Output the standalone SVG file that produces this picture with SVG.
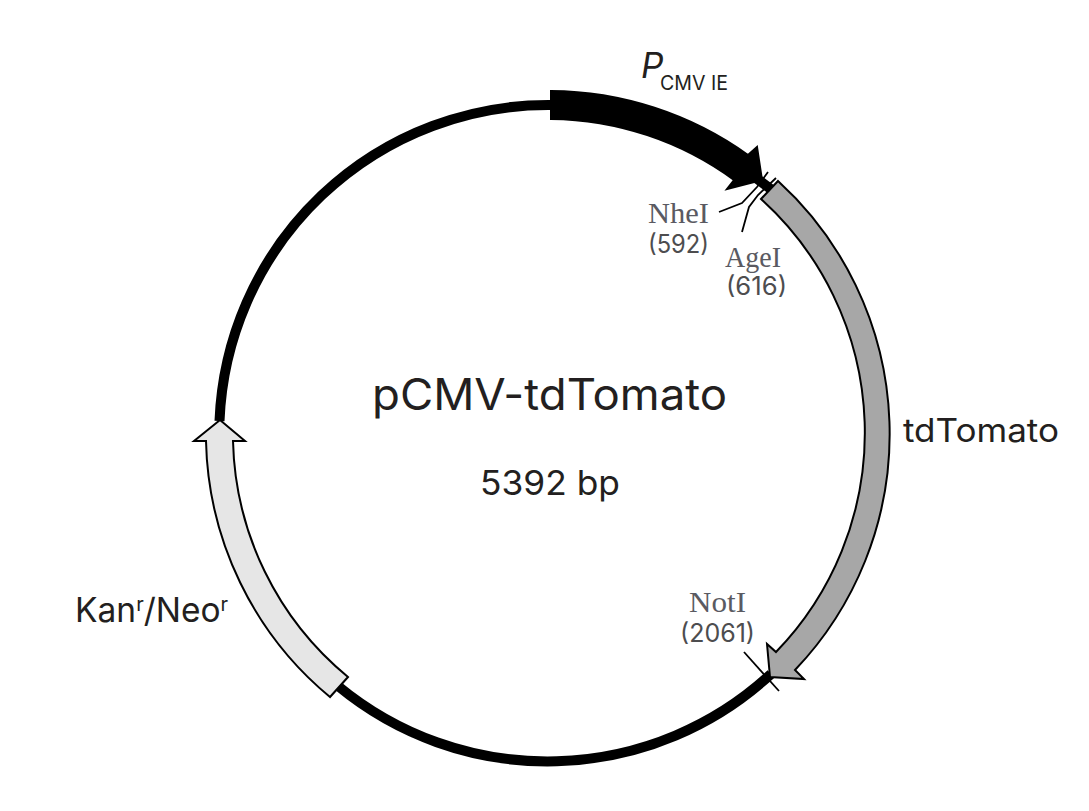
<svg xmlns="http://www.w3.org/2000/svg" width="1089" height="811" viewBox="0 0 1089 811">
<style>
.bb{fill:none;stroke:#000;stroke-width:10}
.tk{fill:none;stroke:#000;stroke-width:1.8}
.gene{stroke:#000;stroke-width:2;stroke-linejoin:miter}
text{font-family:Inter,"Liberation Sans",Arial,sans-serif;fill:#231f20}
.site{font-family:"Liberation Serif","Times New Roman",serif;font-size:30px;fill:#5a5a62}
.pos{font-size:25px;fill:#4d4d4f}
</style>
<rect width="1089" height="811" fill="#fff"/>
<g id="connectors">
<path class="bb" d="M552 105A329 329 0 0 0 219.500 421"/>
<path class="bb" d="M338 686A329 329 0 0 0 771 674"/>
<path class="bb" d="M752 175L772 190"/>
<path class="tk" d="M768 172L757 187L742 203L719 212"/>
<path class="tk" d="M776 178L758 195L749 207L742 232"/>
<path class="tk" d="M744 652L779 691"/>
</g>
<g id="pcmv">
<path class="gene" d="M551 91A342 342 0 0 1 748 155L757 147L762 180L727 189L734 180A315 315 0 0 0 551 119Z" fill="#000"/>
<text x="641" y="78" font-size="35" font-style="italic" font-family="Liberation Sans">P</text>
<text x="660" y="90" font-size="20" textLength="68" lengthAdjust="spacingAndGlyphs">CMV IE</text>
</g>
<g id="tdtomato">
<path class="gene" d="M778 181A342 342 0 0 1 795 670L804 679L770 677L767 644L776 652A315 315 0 0 0 761 199Z" fill="#a7a7a7"/>
<text x="903" y="442" font-size="33" textLength="156" lengthAdjust="spacingAndGlyphs">tdTomato</text>
</g>
<g id="kan">
<path class="gene" d="M330 697A342 342 0 0 1 206 441H194L220 420L245 441H233A315 315 0 0 0 348 677Z" fill="#e6e6e6"/>
<text x="75" y="622" font-size="33.500">Kan<tspan font-size="20" dy="-11">r</tspan><tspan dy="11">/Neo</tspan><tspan font-size="20" dy="-11">r</tspan></text>
</g>
<g id="nhei"><text class="site" x="648" y="223" textLength="61" lengthAdjust="spacingAndGlyphs">NheI</text><text class="pos" x="648" y="253" textLength="61" lengthAdjust="spacingAndGlyphs">(592)</text></g>
<g id="agei"><text class="site" x="725" y="267" textLength="56" lengthAdjust="spacingAndGlyphs">AgeI</text><text class="pos" x="726" y="295" textLength="61" lengthAdjust="spacingAndGlyphs">(616)</text></g>
<g id="noti"><text class="site" x="689" y="612" textLength="57" lengthAdjust="spacingAndGlyphs">NotI</text><text class="pos" x="680" y="642" textLength="75" lengthAdjust="spacingAndGlyphs">(2061)</text></g>
<g id="title">
<text x="372" y="410" font-size="44" textLength="355" lengthAdjust="spacingAndGlyphs">pCMV-tdTomato</text>
<text x="480" y="495" font-size="34" textLength="140" lengthAdjust="spacingAndGlyphs">5392 bp</text>
</g>
</svg>
